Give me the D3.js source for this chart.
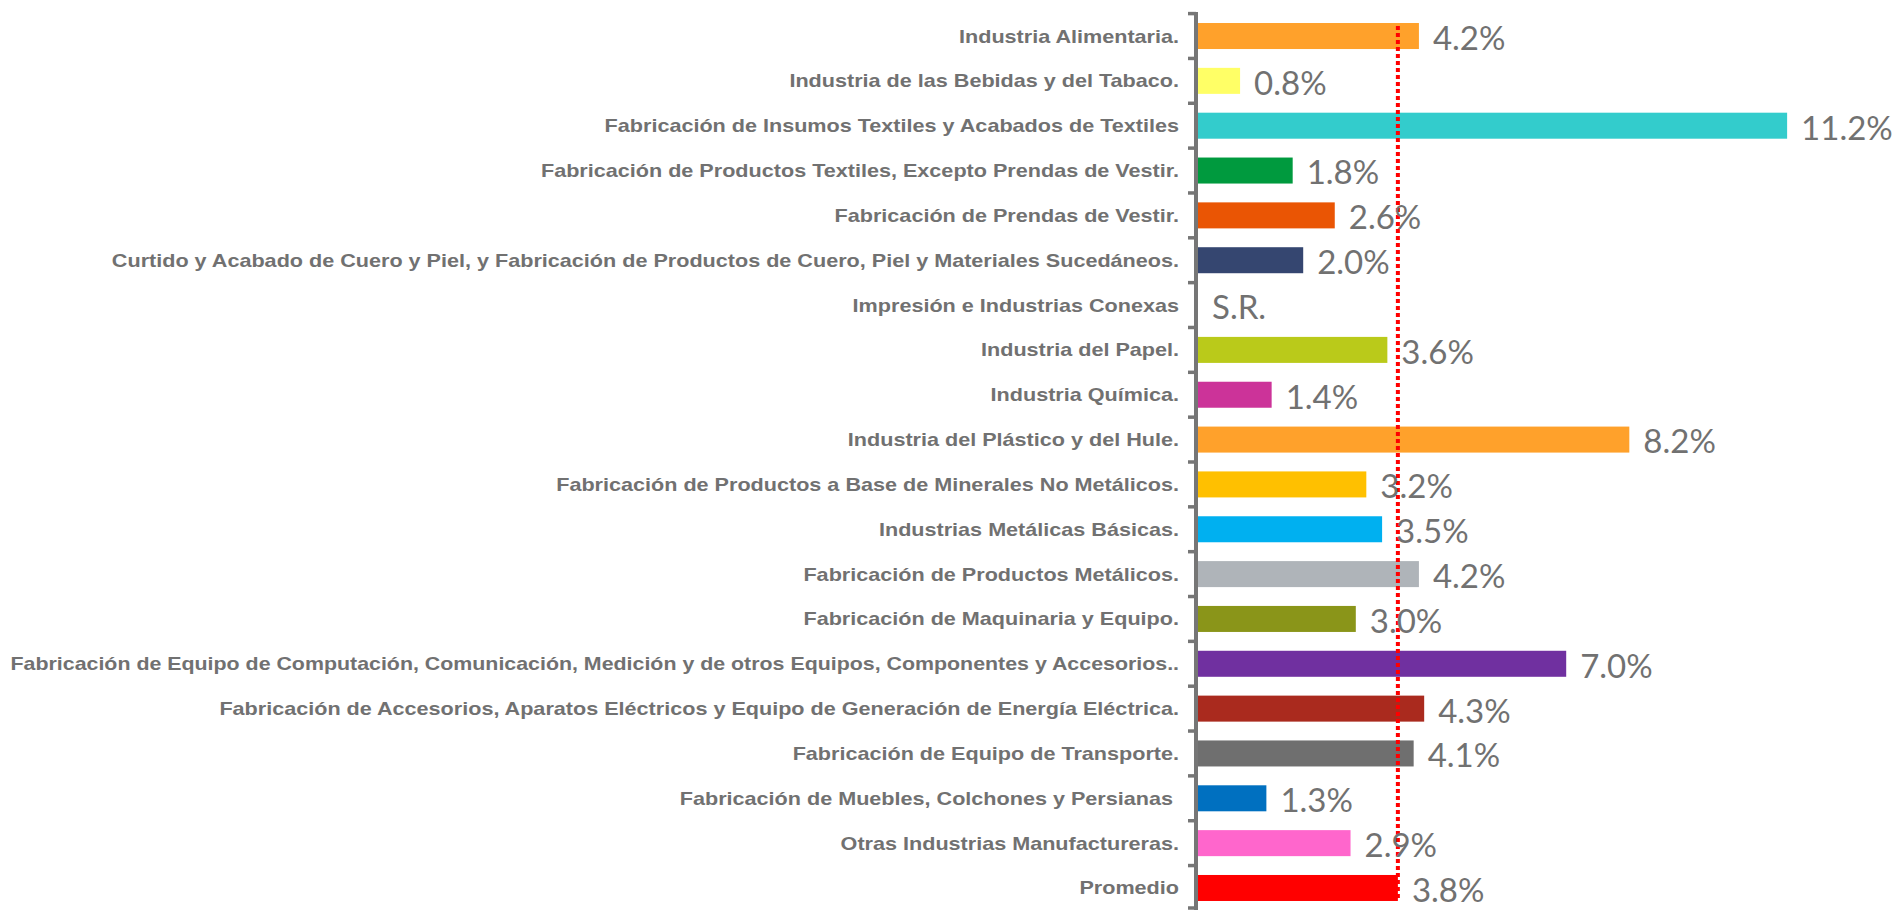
<!DOCTYPE html>
<html>
<head>
<meta charset="utf-8">
<script src="https://cdn.jsdelivr.net/npm/d3@7"></script>
<style>
  body { margin: 0; background: #fff; }
  svg { display: block; }
</style>
</head>
<body>
<div class="chart"></div>
<script>
const categories = [
    'Industria Alimentaria.',
    'Industria de las Bebidas y del Tabaco.',
    'Fabricación de Insumos Textiles y Acabados de Textiles',
    'Fabricación de Productos Textiles, Excepto Prendas de Vestir.',
    'Fabricación de Prendas de Vestir.',
    'Curtido y Acabado de Cuero y Piel, y Fabricación de Productos de Cuero, Piel y Materiales Sucedáneos.',
    'Impresión e Industrias Conexas',
    'Industria del Papel.',
    'Industria Química.',
    'Industria del Plástico y del Hule.',
    'Fabricación de Productos a Base de Minerales No Metálicos.',
    'Industrias Metálicas Básicas.',
    'Fabricación de Productos Metálicos.',
    'Fabricación de Maquinaria y Equipo.',
    'Fabricación de Equipo de Computación, Comunicación, Medición y de otros Equipos, Componentes y Accesorios..',
    'Fabricación de Accesorios, Aparatos Eléctricos y Equipo de Generación de Energía Eléctrica.',
    'Fabricación de Equipo de Transporte.',
    'Fabricación de Muebles, Colchones y Persianas ',
    'Otras Industrias Manufactureras.',
    'Promedio'
];
// null = sin registro (S.R.)
const values = [4.2, 0.8, 11.2, 1.8, 2.6, 2.0, null, 3.6, 1.4, 8.2,
                3.2, 3.5, 4.2, 3.0, 7.0, 4.3, 4.1, 1.3, 2.9, 3.8];
const colors = ['#FFA12B', '#FFFF66', '#33CCCC', '#009A3E', '#EA5504', '#354670', '#FFFFFF',
                '#BACA1A', '#CC3399', '#FFA12B', '#FFC000', '#00B0F0', '#AFB4B9', '#8A9519',
                '#7030A0', '#AA2A1E', '#6F6F6F', '#0070C0', '#FF66CC', '#FF0000'];
const promedio = 3.8;

const _width = 1895, _height = 910;
const x0 = 1198;
const labelRight = 1179;
const textGray = '#717171';

const svg = d3.select('.chart')
    .append('svg')
    .attr('width', _width)
    .attr('height', _height);

let x = d3.scaleLinear()
    .domain([0, 12])
    .range([x0, x0 + 12 * 52.6]);

let y = d3.scaleBand()
    .domain(categories)
    .range([13.6, 910.4])
    .paddingInner(0.42)
    .paddingOuter(0.21);

let rows = categories.map((c, i) => ({name: c, value: values[i], color: colors[i]}));

// bars
svg.append('g')
    .selectAll('rect')
    .data(rows.filter(d => d.value !== null))
    .enter().append('rect')
    .attr('x', x(0))
    .attr('y', d => y(d.name))
    .attr('width', d => x(d.value) - x(0))
    .attr('height', y.bandwidth())
    .attr('fill', d => d.color);

// average line
svg.append('line')
    .attr('x1', x(promedio))
    .attr('x2', x(promedio))
    .attr('y1', y(categories[0]) + 3)
    .attr('y2', y(categories[categories.length - 1]) + y.bandwidth())
    .attr('stroke', '#FF0000')
    .attr('stroke-width', 4)
    .attr('stroke-dasharray', '4,3');

// axis line and ticks between categories
let axis = svg.append('g').attr('stroke', '#767676');
axis.append('line')
    .attr('x1', x0 - 2).attr('x2', x0 - 2)
    .attr('y1', 12).attr('y2', _height)
    .attr('stroke-width', 4);
let bounds = d3.range(categories.length + 1).map(i => y.range()[0] + i * y.step());
axis.selectAll('.tick')
    .data(bounds)
    .enter().append('line')
    .attr('class', 'tick')
    .attr('x1', x0 - 10).attr('x2', x0 - 2)
    .attr('y1', d => Math.min(d, _height - 2))
    .attr('y2', d => Math.min(d, _height - 2))
    .attr('stroke-width', 3.5);

// category labels (source image is stretched horizontally)
svg.append('g')
    .selectAll('text')
    .data(rows)
    .enter().append('text')
    .attr('dy', '0.36em')
    .attr('text-anchor', 'end')
    .style('white-space', 'pre')
    .style('font-family', '"Liberation Sans", Arial, sans-serif')
    .style('font-weight', 'bold')
    .style('font-size', '18px')
    .attr('fill', textGray)
    .text(d => d.name)
    .attr('transform', function(d) {
        let w = this.getComputedTextLength();
        let s = Math.min(1.2, (labelRight - 10) / w);
        return `translate(${labelRight},${y(d.name) + y.bandwidth() / 2}) scale(${s},1)`;
    });

// value labels
svg.append('g')
    .selectAll('text')
    .data(rows)
    .enter().append('text')
    .attr('x', d => x(d.value === null ? 0 : d.value) + 14)
    .attr('y', d => y(d.name) + y.bandwidth() / 2 + 2)
    .attr('dy', '0.36em')
    .style('font-family', 'Lato, sans-serif')
    .style('font-size', '33px')
    .attr('fill', textGray)
    .text(d => d.value === null ? 'S.R.' : d.value.toFixed(1) + '%');
</script>
</body>
</html>
